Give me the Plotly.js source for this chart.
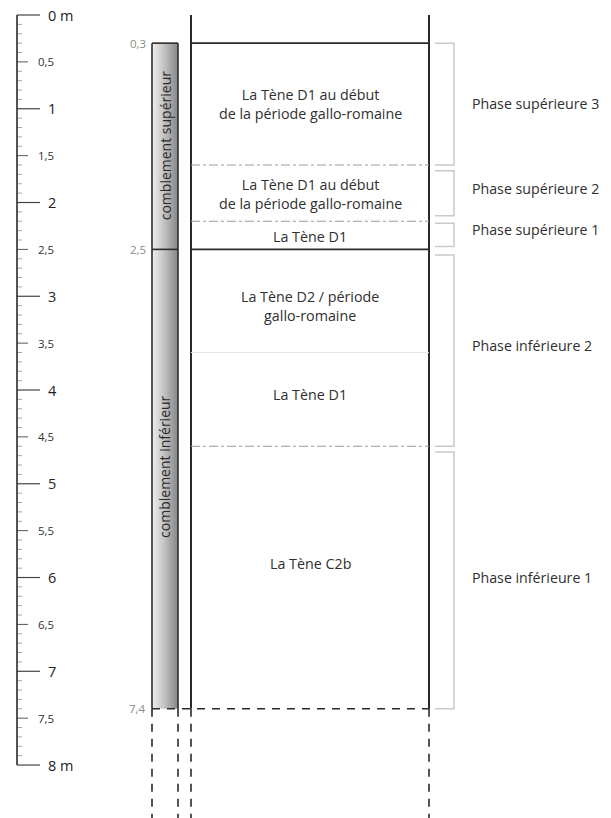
<!DOCTYPE html>
<html><head><meta charset="utf-8">
<script src="https://cdn.plot.ly/plotly-3.0.1.min.js"></script>
<style>html,body{margin:0;padding:0;background:#fff}</style>
</head><body><div id="chart" style="width:611px;height:818px"></div>
<script>
// ---- DATA (depths in metres) ----
const rulerMajor = [0, 1, 2, 3, 4, 5, 6, 7, 8];
const rulerMajorLabels = ['0 m', '1', '2', '3', '4', '5', '6', '7', '8 m'];
const rulerHalf = [0.5, 1.5, 2.5, 3.5, 4.5, 5.5, 6.5, 7.5];
const rulerHalfLabels = ['0,5', '1,5', '2,5', '3,5', '4,5', '5,5', '6,5', '7,5'];
const rulerStep = 0.1;

const fillNames = ['comblement supérieur', 'comblement inférieur'];
const fillTop = [0.3, 2.5];
const fillBottom = [2.5, 7.4];
const fillLabelDepth = [1.4, 4.82];
const depthMarks = [0.3, 2.5, 7.4];
const depthMarkLabels = ['0,3', '2,5', '7,4'];

const layerLabels = [
  'La Tène D1 au début<br>de la période gallo-romaine',
  'La Tène D1 au début<br>de la période gallo-romaine',
  'La Tène D1',
  'La Tène D2 / période<br>gallo-romaine',
  'La Tène D1',
  'La Tène C2b'
];
const layerTop = [0.3, 1.6, 2.2, 2.5, 3.6, 4.6];
const layerBottom = [1.6, 2.2, 2.5, 3.6, 4.6, 7.4];
const layerLabelDepth = [0.95, 1.91, 2.36, 3.1, 4.05, 5.85];
const unitBoundaries = [0.3, 2.5];
const phaseBoundaries = [1.6, 2.2, 4.6];
const minorBoundaries = [3.6];
const baseDepth = 7.4;

const phaseLabels = ['Phase supérieure 3', 'Phase supérieure 2', 'Phase supérieure 1', 'Phase inférieure 2', 'Phase inférieure 1'];
const phaseTop = [0.3, 1.66, 2.22, 2.56, 4.66];
const phaseBottom = [1.6, 2.14, 2.47, 4.6, 7.4];
const phaseLabelDepth = [0.94, 1.85, 2.29, 3.53, 6.0];

// ---- LAYOUT CONSTANTS (pixel-like x units) ----
const X_RULER = 17, X_BAR_L = 152, X_BAR_R = 178, X_COL_L = 191, X_COL_R = 429;
const X_BR_L = 435, X_BR_R = 454;
const Y_BOTTOM = 8.565, Y_TOP = -0.16;
const FONT = '"Open Sans", "Noto Sans", sans-serif';
const DARK = '#2b2b2b';

function segs(depths, x0, x1) {
  const x = [], y = [];
  depths.forEach(d => { x.push(x0, x1, null); y.push(d, d, null); });
  return {x, y};
}
function line(x, y, color, width, dash) {
  return {type: 'scatter', mode: 'lines', x, y, hoverinfo: 'skip', showlegend: false,
          line: {color, width, dash: dash || 'solid'}};
}

const traces = [];
// ruler
const minorDepths = [];
for (let i = 0; i <= Math.round(rulerMajor[rulerMajor.length - 1] / rulerStep); i++) {
  const d = +(i * rulerStep).toFixed(1);
  if (!rulerMajor.includes(d) && !rulerHalf.includes(d)) minorDepths.push(d);
}
let s = segs(minorDepths, X_RULER, X_RULER + 5);
traces.push(line(s.x, s.y, '#a8a8a8', 1));
s = segs(rulerHalf, X_RULER, X_RULER + 11);
traces.push(line(s.x, s.y, '#555', 1));
s = segs(rulerMajor, X_RULER, X_RULER + 23);
traces.push(line(s.x, s.y, '#444', 1.2));
traces.push(line([X_RULER, X_RULER], [rulerMajor[0], rulerMajor[rulerMajor.length - 1]], DARK, 1.6));

// fill bar with gradient
const barBottom = fillBottom[fillBottom.length - 1];
traces.push({type: 'scatter', mode: 'lines', hoverinfo: 'skip', showlegend: false,
  x: [X_BAR_L, X_BAR_R, X_BAR_R, X_BAR_L, X_BAR_L],
  y: [fillTop[0], fillTop[0], barBottom, barBottom, fillTop[0]],
  fill: 'toself', line: {width: 0, color: 'rgba(0,0,0,0)'},
  fillgradient: {type: 'horizontal', colorscale: [[0, '#efefef'], [0.45, '#c4c4c4'], [1, '#868686']]}
});
traces.push(line([X_BAR_L, X_BAR_L, null, X_BAR_R, X_BAR_R], [fillTop[0], barBottom, null, fillTop[0], barBottom], DARK, 1.6));
s = segs(fillTop, X_BAR_L, X_BAR_R);
traces.push(line(s.x, s.y, DARK, 1.6));

// main column
traces.push(line([X_COL_L, X_COL_L, null, X_COL_R, X_COL_R], [0, baseDepth, null, 0, baseDepth], DARK, 2));
s = segs(unitBoundaries, X_COL_L, X_COL_R);
traces.push(line(s.x, s.y, DARK, 1.6));
s = segs(phaseBoundaries, X_COL_L, X_COL_R);
traces.push(line(s.x, s.y, '#9a9a9a', 1, 'dashdot'));
s = segs(minorBoundaries, X_COL_L, X_COL_R);
traces.push(line(s.x, s.y, '#e4e4e4', 1));
traces.push(line([X_BAR_L, X_COL_R], [baseDepth, baseDepth], DARK, 1.6, '8px,7px'));
// continuation below base
const cx = [], cy = [];
[X_BAR_L, X_BAR_R, X_COL_L, X_COL_R].forEach(x => { cx.push(x, x, null); cy.push(baseDepth, Y_BOTTOM, null); });
traces.push(line(cx, cy, DARK, 1.6, '8px,7px'));

// phase brackets
const bx = [], by = [];
phaseTop.forEach((t, i) => { bx.push(X_BR_L, X_BR_R, X_BR_R, X_BR_L, null); by.push(t, t, phaseBottom[i], phaseBottom[i], null); });
traces.push(line(bx, by, '#c9c9c9', 1.5));

// ---- annotations ----
const ann = [];
const txt = (x, y, text, size, color, xanchor, extra) => Object.assign({
  x, y, xref: 'x', yref: 'y', text, showarrow: false, xanchor: xanchor || 'center', yanchor: 'middle',
  font: {family: FONT, size, color: color || '#2f2f2f'}
}, extra || {});
rulerMajor.forEach((d, i) => ann.push(txt(46, d, rulerMajorLabels[i], 14.5, '#222', 'left')));
rulerHalf.forEach((d, i) => ann.push(txt(36, d, rulerHalfLabels[i], 11.5, '#333', 'left')));
depthMarks.forEach((d, i) => ann.push(txt(148, d, depthMarkLabels[i], 11.5, '#8a8a8a', 'right')));
fillNames.forEach((n, i) => ann.push(txt((X_BAR_L + X_BAR_R) / 2, fillLabelDepth[i], n, 14, '#2a2a2a', 'center', {textangle: -90})));
layerLabels.forEach((n, i) => ann.push(txt((X_COL_L + X_COL_R) / 2, layerLabelDepth[i], n, 14.3, '#2f2f2f', 'center')));
phaseLabels.forEach((n, i) => ann.push(txt(470, phaseLabelDepth[i], n, 14.2, '#2f2f2f', 'left')));

const layout = {
  width: 611, height: 818, margin: {l: 0, r: 0, t: 0, b: 0},
  paper_bgcolor: '#fff', plot_bgcolor: '#fff', showlegend: false,
  xaxis: {range: [0, 611], visible: false, fixedrange: true},
  yaxis: {range: [Y_BOTTOM, Y_TOP], visible: false, fixedrange: true},
  annotations: ann
};
Plotly.newPlot('chart', traces, layout, {staticPlot: true, displayModeBar: false});
</script></body></html>
